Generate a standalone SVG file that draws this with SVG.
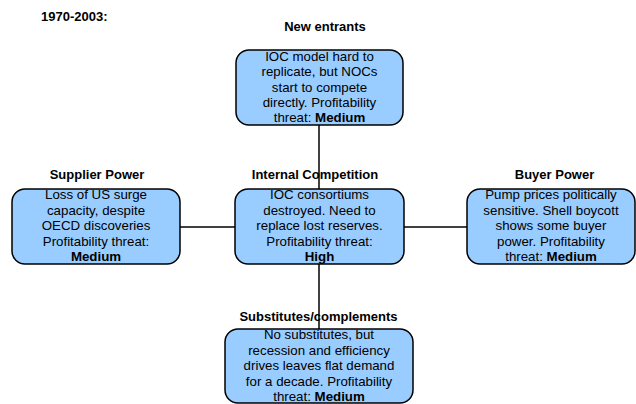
<svg xmlns="http://www.w3.org/2000/svg" width="636" height="404" viewBox="0 0 636 404">
<style>
.box{fill:#99CCFF;stroke:#000;stroke-width:1.5}
.t{font-family:"Liberation Sans",Arial,sans-serif;font-size:13px;font-weight:bold;fill:#000}
.b{font-family:"Liberation Sans",Arial,sans-serif;font-size:13.3px;fill:#000;text-anchor:middle}
.c{stroke:#000;stroke-width:1.5;fill:none}
</style>
<rect width="636" height="404" fill="#fff"/>
<text class="t" x="41" y="21">1970-2003:</text>
<g id="connectors">
<line class="c" x1="319" y1="125" x2="319" y2="329"/>
<line class="c" x1="180" y1="227" x2="467" y2="227"/>
</g>
<g id="new-entrants">
<text class="t" x="325" y="31" text-anchor="middle">New entrants</text>
<rect class="box" x="236" y="50" width="167" height="75" rx="13"/>
<text class="b" x="319.5" y="61">IOC model hard to</text>
<text class="b" x="319.5" y="76.3">replicate, but NOCs</text>
<text class="b" x="319.5" y="91.6">start to compete</text>
<text class="b" x="319.5" y="106.9">directly. Profitability</text>
<text class="b" x="319.5" y="122.2">threat: <tspan font-weight="bold">Medium</tspan></text>
</g>
<g id="supplier-power">
<text class="t" x="97" y="179" text-anchor="middle">Supplier Power</text>
<rect class="box" x="12" y="189" width="168" height="75" rx="13"/>
<text class="b" x="96" y="199.3">Loss of US surge</text>
<text class="b" x="96" y="214.8">capacity, despite</text>
<text class="b" x="96" y="230.3">OECD discoveries</text>
<text class="b" x="96" y="245.8">Profitability threat:</text>
<text class="b" x="96" y="261.3" font-weight="bold">Medium</text>
</g>
<g id="internal-competition">
<text class="t" x="315" y="179" text-anchor="middle">Internal Competition</text>
<rect class="box" x="235" y="189" width="169" height="75" rx="13"/>
<text class="b" x="319.5" y="199.3">IOC consortiums</text>
<text class="b" x="319.5" y="214.8">destroyed. Need to</text>
<text class="b" x="319.5" y="230.3">replace lost reserves.</text>
<text class="b" x="319.5" y="245.8">Profitability threat:</text>
<text class="b" x="319.5" y="261.3" font-weight="bold">High</text>
</g>
<g id="buyer-power">
<text class="t" x="554.5" y="179" text-anchor="middle">Buyer Power</text>
<rect class="box" x="467" y="189" width="168" height="75" rx="13"/>
<text class="b" x="551" y="199.3">Pump prices politically</text>
<text class="b" x="551" y="214.8">sensitive. Shell boycott</text>
<text class="b" x="551" y="230.3">shows some buyer</text>
<text class="b" x="551" y="245.8">power. Profitability</text>
<text class="b" x="551" y="261.3">threat: <tspan font-weight="bold">Medium</tspan></text>
</g>
<g id="substitutes">
<text class="t" x="318.5" y="321" text-anchor="middle">Substitutes/complements</text>
<rect class="box" x="225" y="329" width="188" height="74" rx="13"/>
<text class="b" x="319" y="339">No substitutes, but</text>
<text class="b" x="319" y="354.6">recession and efficiency</text>
<text class="b" x="319" y="370.2">drives leaves flat demand</text>
<text class="b" x="319" y="385.8">for a decade. Profitability</text>
<text class="b" x="319" y="401.4">threat: <tspan font-weight="bold">Medium</tspan></text>
</g>
</svg>
